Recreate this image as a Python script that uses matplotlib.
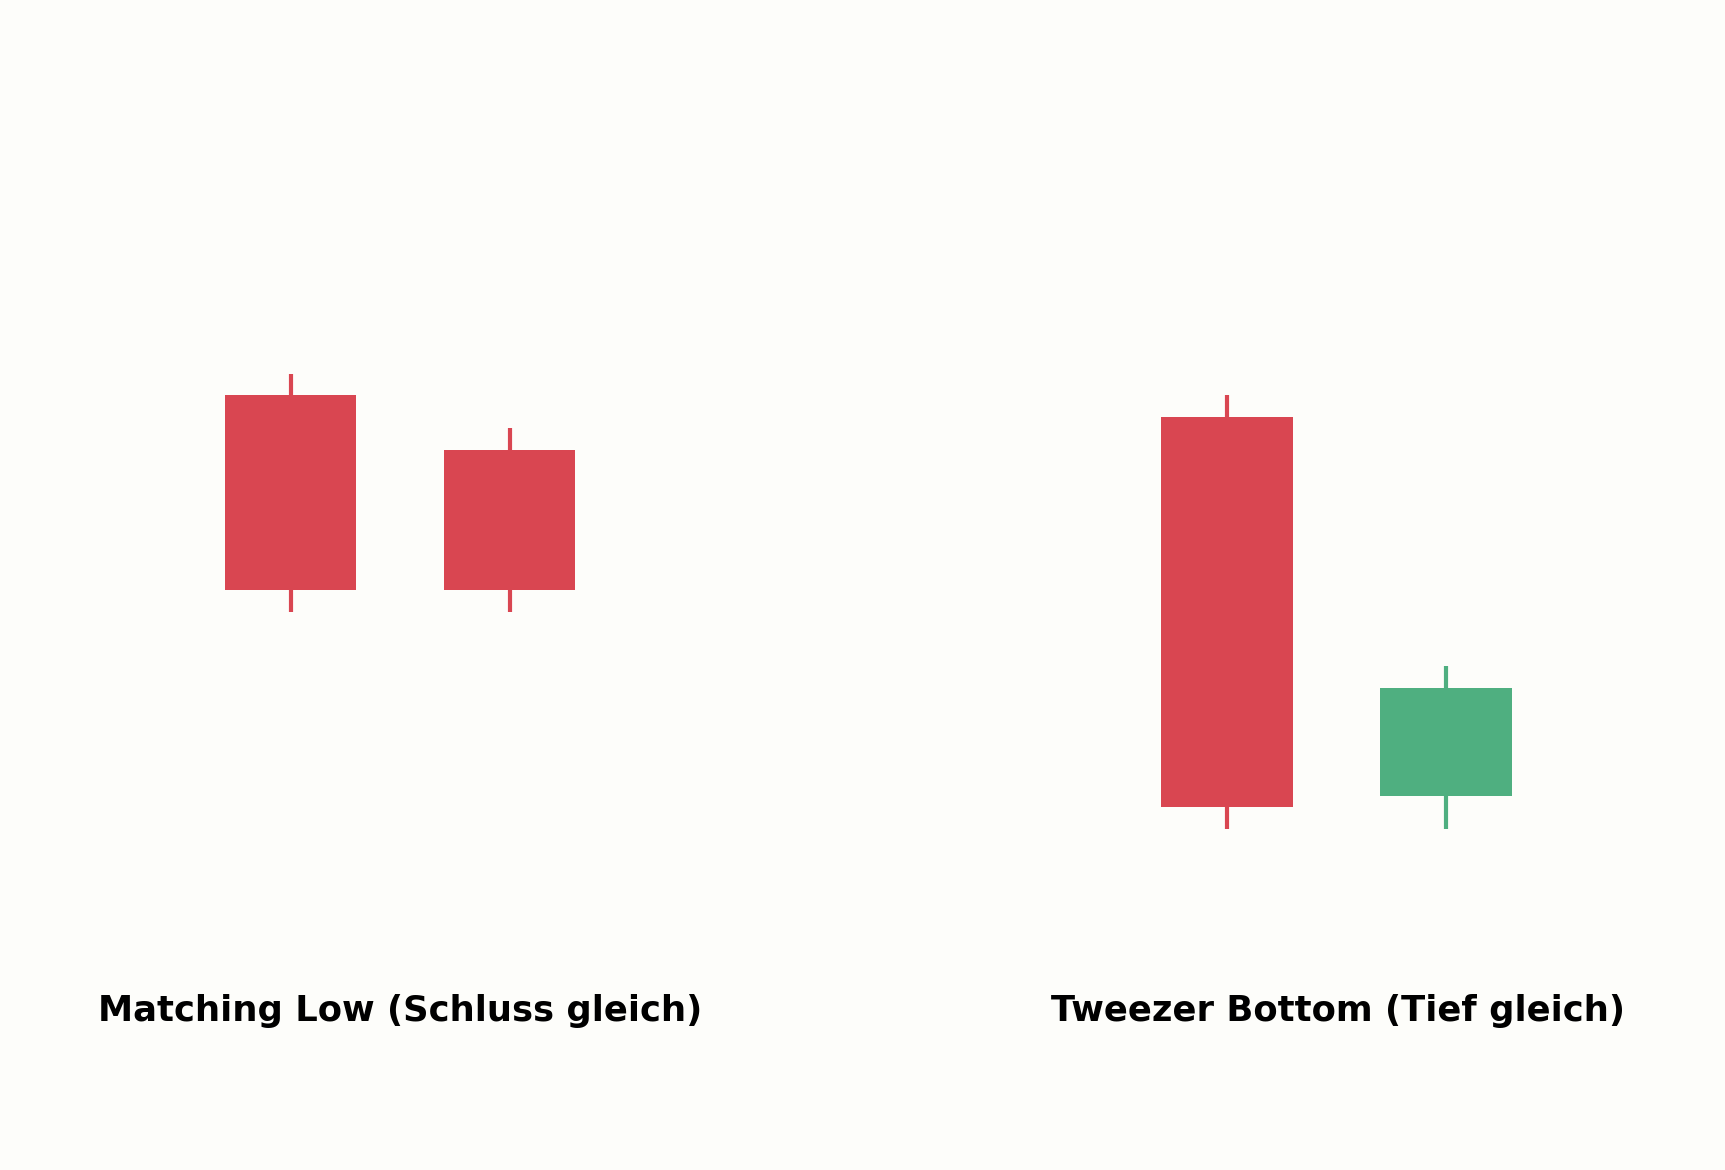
import matplotlib
matplotlib.use('Agg')
import matplotlib.pyplot as plt

# Candle data (open, high, low, close) for the two patterns
left_title = "Matching Low (Schluss gleich)"
left_open = [108, 105.5]
left_high = [109, 106.5]
left_low = [98, 98]
left_close = [99, 99]

right_title = "Tweezer Bottom (Tief gleich)"
right_open = [107, 89.5]
right_high = [108, 95.5]
right_low = [88, 88]
right_close = [89, 94.5]

bg = '#fdfdfa'
red = '#d94651'
green = '#4faf80'

fig = plt.figure(figsize=(11.5, 7.8), dpi=150, facecolor=bg)

def draw_candles(ax, opens, highs, lows, closes):
    for i, (o, h, l, c) in enumerate(zip(opens, highs, lows, closes)):
        color = green if c >= o else red
        ax.vlines(i, l, h, color=color, linewidth=2, zorder=1)
        ax.bar(i, abs(c - o), bottom=min(o, c), width=0.6, color=color, zorder=2)
    ax.set_xlim(0.5 - 1.575, 0.5 + 1.575)
    ax.set_ylim(72.25, 126.25)
    ax.set_facecolor(bg)
    ax.axis('off')

ax1 = fig.add_axes([0.0319, 0, 0.4, 1])
draw_candles(ax1, left_open, left_high, left_low, left_close)
ax2 = fig.add_axes([0.5748, 0, 0.4, 1])
draw_candles(ax2, right_open, right_high, right_low, right_close)

fig.text(0.2319, 0.127, left_title, ha='center', va='baseline', fontsize=17, fontweight='bold')
fig.text(0.7755, 0.127, right_title, ha='center', va='baseline', fontsize=17, fontweight='bold')

fig.savefig('out.png', dpi=150, facecolor=bg)
